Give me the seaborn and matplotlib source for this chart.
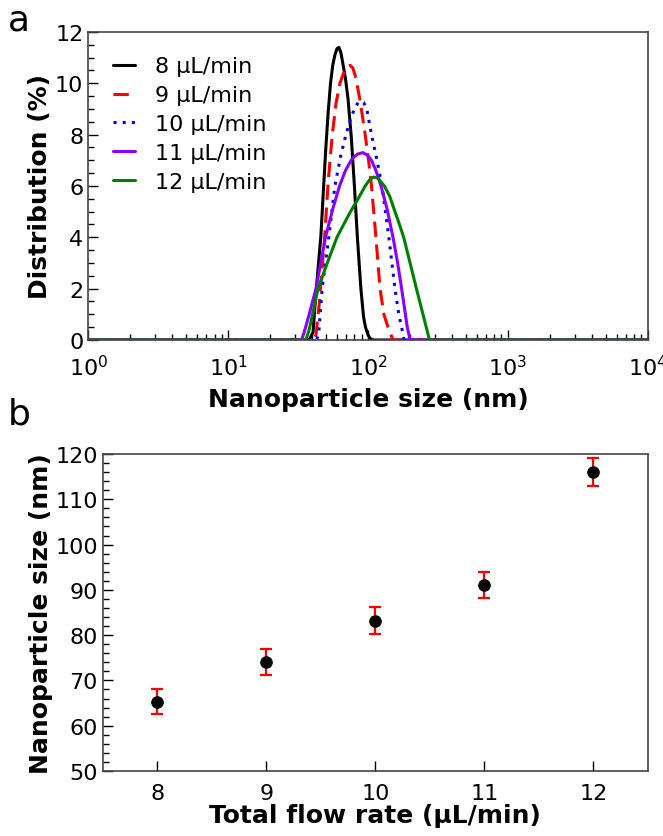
import pandas as pd
import seaborn as sns
import matplotlib.pyplot as plt
from matplotlib.ticker import MultipleLocator, LogLocator, NullFormatter

# panel a: size distributions (nm, %)
size_8 = [1, 38, 40.5, 42, 44, 46, 48, 50, 52, 54, 56, 58, 60, 62, 64, 66, 69, 72, 76, 80, 84, 89, 93, 96, 100, 104, 110, 10000]
dist_8 = [0, 0, 0.3, 1.5, 2.8, 4.0, 5.8, 7.5, 8.9, 10.0, 10.7, 11.1, 11.35, 11.4, 11.2, 10.8, 10.2, 9.4, 7.9, 6.0, 4.0, 2.0, 0.9, 0.5, 0.2, 0.05, 0, 0]

size_9 = [1, 41, 42.5, 45, 49, 52, 55.6, 59, 63, 67, 70, 74.6, 78, 82, 88, 95.5, 101, 106, 114, 122, 130, 139, 151, 10000]
dist_9 = [0, 0, 0.2, 1.5, 4.0, 6.2, 8.0, 9.2, 10.0, 10.4, 10.6, 10.7, 10.6, 10.2, 9.3, 8.0, 7.0, 6.0, 4.0, 2.0, 1.0, 0.5, 0, 0]

size_10 = [1, 43, 44.5, 47, 52.5, 58, 64, 69.6, 75, 80, 85, 89, 93, 98, 106, 115, 126, 141, 156, 166, 174, 181, 10000]
dist_10 = [0, 0, 0.3, 2.0, 4.0, 6.0, 7.2, 8.0, 8.6, 9.0, 9.25, 9.3, 9.25, 9.0, 8.0, 7.1, 6.0, 4.0, 2.0, 1.0, 0.5, 0, 0]

size_11 = [1, 33.5, 35, 38, 42.5, 49.7, 56, 62.6, 69, 75.8, 80, 85, 92, 99, 106, 114, 124, 137, 151, 163, 174, 191, 200, 10000]
dist_11 = [0, 0, 0.3, 1.0, 2.0, 4.0, 5.1, 6.0, 6.6, 7.0, 7.15, 7.25, 7.3, 7.2, 7.0, 6.6, 6.0, 5.1, 4.0, 3.0, 2.0, 0.5, 0, 0]

size_12 = [1, 36, 38, 44, 52, 60, 67, 75, 85, 95.5, 103, 110, 118, 131, 143, 156, 168, 180, 200, 222, 242, 261, 275, 10000]
dist_12 = [0, 0, 0.4, 2.0, 3.1, 4.0, 4.5, 5.0, 5.5, 6.0, 6.25, 6.35, 6.3, 6.0, 5.6, 5.0, 4.5, 4.0, 3.0, 2.0, 1.2, 0.5, 0, 0]

series = [
    ("8 µL/min", size_8, dist_8, "black", "-"),
    ("9 µL/min", size_9, dist_9, "#ff0000", (0, (5, 2.5))),
    ("10 µL/min", size_10, dist_10, "#0000ff", (0, (1, 2))),
    ("11 µL/min", size_11, dist_11, "#8b00ff", "-"),
    ("12 µL/min", size_12, dist_12, "#008000", "-"),
]

# panel b: mean size vs total flow rate
flow_rate = [8, 9, 10, 11, 12]
mean_size = [65.3, 74.1, 83.2, 91.0, 116.0]
size_err = [2.8, 2.85, 3.0, 2.9, 3.1]

sns.set_style("white")
plt.rcParams['font.family'] = ['DejaVu Sans']
plt.rcParams['mathtext.fontset'] = 'dejavusans'
plt.rcParams['text.color'] = 'black'
plt.rcParams['axes.labelcolor'] = 'black'
plt.rcParams['xtick.color'] = 'black'
plt.rcParams['ytick.color'] = 'black'

fig = plt.figure(figsize=(6.63, 8.37), dpi=100)
ax1 = fig.add_axes([0.133, 0.5926, 0.844, 0.368])
ax2 = fig.add_axes([0.155, 0.0777, 0.822, 0.3787])

for label, xs, ys, color, ls in series:
    df = pd.DataFrame({"size": xs, "dist": ys})
    sns.lineplot(data=df, x="size", y="dist", ax=ax1, color=color,
                 linestyle=ls, linewidth=2.2, label=label, sort=False,
                 estimator=None)

ax1.set_xscale("log")
ax1.set_xlim(1, 10000)
ax1.set_ylim(0, 12)
ax1.yaxis.set_major_locator(MultipleLocator(2))
ax1.yaxis.set_minor_locator(MultipleLocator(0.5))
ax1.xaxis.set_major_locator(LogLocator(base=10, numticks=10))
ax1.xaxis.set_minor_locator(LogLocator(base=10, subs=range(2, 10), numticks=50))
ax1.xaxis.set_minor_formatter(NullFormatter())
ax1.set_xlabel("Nanoparticle size (nm)", fontsize=18, fontweight="bold", labelpad=6)
ax1.set_ylabel("Distribution (%)", fontsize=18, fontweight="bold", labelpad=2)
ax1.tick_params(axis="x", which="major", pad=10)
ax1.legend(loc="upper left", frameon=False, fontsize=16, handlelength=1.0,
           handletextpad=0.9, labelspacing=0.4, borderaxespad=0.7,
           borderpad=0.4)

ax2.errorbar(flow_rate, mean_size, yerr=size_err, fmt="none", ecolor="#ff0000",
             elinewidth=1.6, capsize=4, capthick=1.6)
sns.scatterplot(x=flow_rate, y=mean_size, ax=ax2, color="black", s=70,
                edgecolor="black", zorder=3)
ax2.set_xlim(7.5, 12.5)
ax2.set_ylim(50, 120)
ax2.xaxis.set_major_locator(MultipleLocator(1))
ax2.yaxis.set_major_locator(MultipleLocator(10))
ax2.yaxis.set_minor_locator(MultipleLocator(2))
ax2.set_xlabel("Total flow rate (µL/min)", fontsize=18, fontweight="bold", labelpad=0)
ax2.set_ylabel("Nanoparticle size (nm)", fontsize=18, fontweight="bold", labelpad=2)
ax2.tick_params(axis="x", which="major", pad=9)

for ax in (ax1, ax2):
    ax.tick_params(which="both", direction="in", left=True, bottom=True,
                   top=False, right=False, labelsize=16)
    ax.tick_params(which="major", length=7, width=1)
    ax.tick_params(which="minor", length=4, width=1)
    for sp in ax.spines.values():
        sp.set_color("#444444")
        sp.set_linewidth(1.2)

fig.text(0.012, 0.975, "a", fontsize=26, va="center")
fig.text(0.012, 0.505, "b", fontsize=26, va="center")

fig.savefig("out.png", dpi=100)
